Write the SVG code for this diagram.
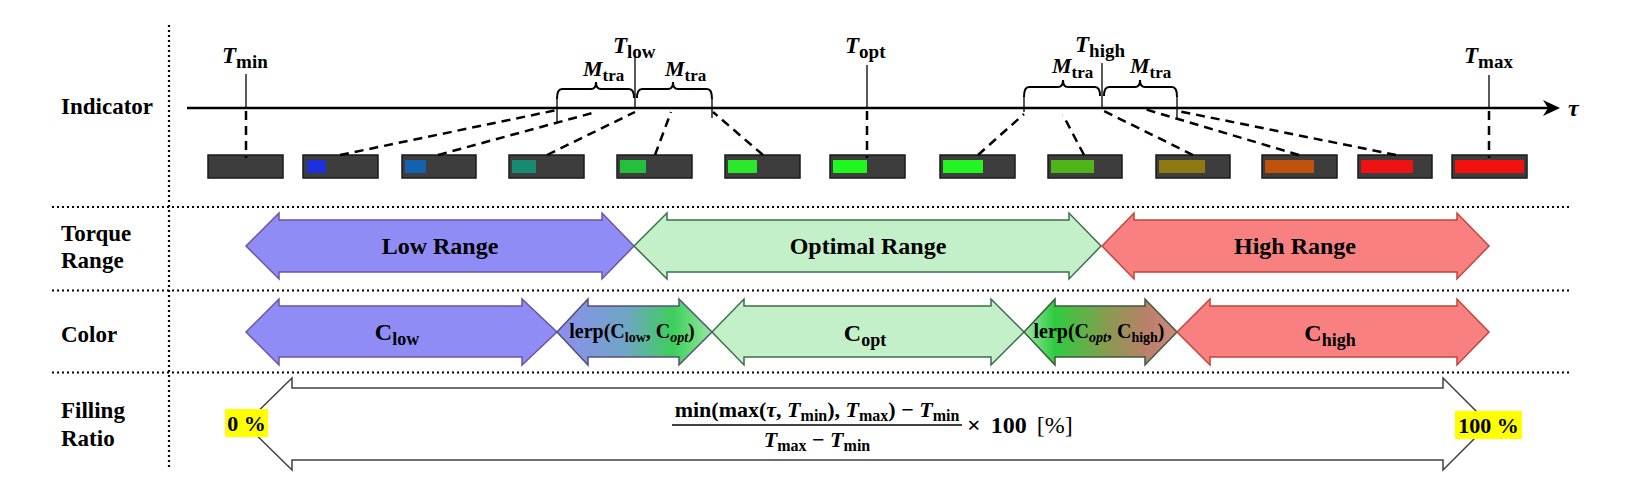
<svg xmlns="http://www.w3.org/2000/svg" width="1636" height="494" viewBox="0 0 1636 494">
<defs>
<style>
.lbl{font-family:"Liberation Serif","Times New Roman",serif;font-weight:bold;fill:#000}
.big{font-size:23px}
.rng{font-size:24px;text-anchor:middle}
.ti{font-style:italic}
.sub{font-size:17px;font-style:normal}
.tsub{font-size:19px;font-style:normal}
.dot{stroke:#000;stroke-width:2.2;stroke-dasharray:2 3;fill:none}
.dash{stroke:#000;stroke-width:2.5;stroke-dasharray:9 6;fill:none}
.thin{stroke:#000;stroke-width:1.3;fill:none}
.brace{stroke:#000;stroke-width:2;fill:none}
.bar{fill:#3d3d3d;stroke:#1a1a1a;stroke-width:1.5}
.low{fill:#908cf5;stroke:#6a54a8;stroke-width:1.5}
.opt{fill:#c3f0c8;stroke:#3d6e48;stroke-width:1.5}
.high{fill:#f88080;stroke:#c0463a;stroke-width:1.5}
.fill{fill:#fff;stroke:#404040;stroke-width:1.5}
.hl{fill:#ffff00}
</style>
<linearGradient id="g1" x1="557" y1="0" x2="712" y2="0" gradientUnits="userSpaceOnUse">
<stop offset="0" stop-color="#8e8ef0"/>
<stop offset="0.45" stop-color="#6fa6c4"/>
<stop offset="0.75" stop-color="#3ccf5a"/>
<stop offset="1" stop-color="#95e8a0"/>
</linearGradient>
<linearGradient id="g2" x1="1024" y1="0" x2="1177" y2="0" gradientUnits="userSpaceOnUse">
<stop offset="0" stop-color="#a0e6a6"/>
<stop offset="0.2" stop-color="#2ecc40"/>
<stop offset="0.55" stop-color="#8a9a50"/>
<stop offset="0.8" stop-color="#b8806a"/>
<stop offset="1" stop-color="#d08878"/>
</linearGradient>
</defs>
<rect width="1636" height="494" fill="#fff"/>

<g id="grid">
<line class="dot" x1="169" y1="25" x2="169" y2="467"/>
<line class="dot" x1="52" y1="207" x2="1572" y2="207"/>
<line class="dot" x1="52" y1="290.5" x2="1572" y2="290.5"/>
<line class="dot" x1="52" y1="372.5" x2="1572" y2="372.5"/>
</g>

<g id="row-labels" class="lbl big">
<text x="61" y="114">Indicator</text>
<text x="61" y="241">Torque</text>
<text x="61" y="268">Range</text>
<text x="61" y="342">Color</text>
<text x="61" y="418">Filling</text>
<text x="61" y="446">Ratio</text>
</g>

<g id="axis">
<line x1="187" y1="108" x2="1550" y2="108" stroke="#000" stroke-width="2.5"/>
<path d="M1560,108 L1543,100 L1548,108 L1543,116 Z" fill="#000"/>
<text class="lbl ti" x="1568" y="116" font-size="24">τ</text>
</g>

<g id="t-labels" class="lbl big">
<text x="222" y="63"><tspan class="ti">T</tspan><tspan class="tsub" dy="5">min</tspan></text>
<text x="613" y="53"><tspan class="ti">T</tspan><tspan class="tsub" dy="5">low</tspan></text>
<text x="845" y="53"><tspan class="ti">T</tspan><tspan class="tsub" dy="5">opt</tspan></text>
<text x="1075" y="52"><tspan class="ti">T</tspan><tspan class="tsub" dy="5">high</tspan></text>
<text x="1464" y="63"><tspan class="ti">T</tspan><tspan class="tsub" dy="5">max</tspan></text>
<text x="583" y="76" font-size="22"><tspan class="ti">M</tspan><tspan class="sub" dy="5">tra</tspan></text>
<text x="665" y="76" font-size="22"><tspan class="ti">M</tspan><tspan class="sub" dy="5">tra</tspan></text>
<text x="1052" y="73" font-size="22"><tspan class="ti">M</tspan><tspan class="sub" dy="5">tra</tspan></text>
<text x="1130" y="73" font-size="22"><tspan class="ti">M</tspan><tspan class="sub" dy="5">tra</tspan></text>
</g>

<g id="braces">
<path class="brace" d="M557,99 Q557,89 562,89 L591,89 Q596,89 596,82 Q596,89 601,89 L629,89 Q634,89 634,98"/>
<path class="brace" d="M637,98 Q637,89 642,89 L668,89 Q673,89 673,82 Q673,89 678,89 L707,89 Q712,89 712,99"/>
<path class="brace" d="M1024,97 Q1024,87 1029,87 L1058,87 Q1063,87 1063,80 Q1063,87 1068,87 L1095,87 Q1100,87 1100,96"/>
<path class="brace" d="M1104,96 Q1104,87 1109,87 L1135,87 Q1140,87 1140,80 Q1140,87 1145,87 L1172,87 Q1177,87 1177,97"/>
</g>

<g id="indicators">
<g id="bar1"><rect class="bar" x="208" y="155" width="75" height="23"/></g>
<g id="bar2"><rect class="bar" x="303" y="155" width="75" height="23"/><rect x="307" y="160" width="19" height="13" fill="#1d30dc"/></g>
<g id="bar3"><rect class="bar" x="402" y="155" width="74" height="23"/><rect x="405" y="160" width="21" height="13" fill="#1262ae"/></g>
<g id="bar4"><rect class="bar" x="509" y="155" width="75" height="23"/><rect x="512" y="160" width="24" height="13" fill="#178a72"/></g>
<g id="bar5"><rect class="bar" x="617" y="155" width="75" height="23"/><rect x="620" y="160" width="26" height="13" fill="#22c03c"/></g>
<g id="bar6"><rect class="bar" x="725" y="155" width="75" height="23"/><rect x="728" y="160" width="29" height="13" fill="#2be82b"/></g>
<g id="bar7"><rect class="bar" x="830" y="155" width="75" height="23"/><rect x="833" y="160" width="34" height="13" fill="#1ef81e"/></g>
<g id="bar8"><rect class="bar" x="940" y="155" width="75" height="23"/><rect x="943" y="160" width="40" height="13" fill="#22f522"/></g>
<g id="bar9"><rect class="bar" x="1048" y="155" width="74" height="23"/><rect x="1051" y="160" width="43" height="13" fill="#4fb51b"/></g>
<g id="bar10"><rect class="bar" x="1156" y="155" width="74" height="23"/><rect x="1159" y="160" width="46" height="13" fill="#8e7a10"/></g>
<g id="bar11"><rect class="bar" x="1262" y="155" width="75" height="23"/><rect x="1265" y="160" width="49" height="13" fill="#c0520c"/></g>
<g id="bar12"><rect class="bar" x="1358" y="155" width="74" height="23"/><rect x="1361" y="160" width="52" height="13" fill="#f01212"/></g>
<g id="bar13"><rect class="bar" x="1452" y="155" width="75" height="23"/><rect x="1455" y="160" width="69" height="13" fill="#f51010"/></g>
</g>

<g id="connectors">
<line class="thin" x1="246" y1="74" x2="246" y2="108"/>
<line class="thin" x1="635" y1="56" x2="635" y2="108"/>
<line class="thin" x1="867" y1="65" x2="867" y2="108"/>
<line class="thin" x1="1102" y1="63" x2="1102" y2="108"/>
<line class="thin" x1="1489" y1="75" x2="1489" y2="108"/>
<line class="thin" x1="557" y1="99" x2="557" y2="122"/>
<line class="thin" x1="712" y1="99" x2="712" y2="118"/>
<line class="thin" x1="1024" y1="97" x2="1024" y2="112"/>
<line class="thin" x1="1177" y1="97" x2="1177" y2="118"/>
<line class="dash" x1="246" y1="111" x2="246" y2="158"/>
<line class="dash" x1="340" y1="155" x2="557" y2="110"/>
<line class="dash" x1="438" y1="155" x2="596" y2="112"/>
<line class="dash" x1="547" y1="155" x2="635" y2="112"/>
<line class="dash" x1="655" y1="155" x2="671" y2="112"/>
<line class="dash" x1="763" y1="155" x2="713" y2="112"/>
<line class="dash" x1="867" y1="111" x2="867" y2="158"/>
<line class="dash" x1="978" y1="155" x2="1024" y2="114"/>
<line class="dash" x1="1084" y1="155" x2="1063" y2="115"/>
<line class="dash" x1="1193" y1="155" x2="1104" y2="111"/>
<line class="dash" x1="1299" y1="155" x2="1141" y2="108"/>
<line class="dash" x1="1396" y1="155" x2="1178" y2="111"/>
<line class="dash" x1="1489" y1="111" x2="1489" y2="158"/>
</g>

<g id="torque-low">
<polygon class="low" points="246,246 279,213 279,220 602,220 602,213 634,246 602,279 602,272 279,272 279,279"/>
<text class="lbl rng" x="440" y="254">Low Range</text>
</g>
<g id="torque-opt">
<polygon class="opt" points="634,246 667,213 667,220 1069,220 1069,213 1101,246 1069,279 1069,272 667,272 667,279"/>
<text class="lbl rng" x="868" y="254">Optimal Range</text>
</g>
<g id="torque-high">
<polygon class="high" points="1102,246 1134,213 1134,220 1457,220 1457,213 1489,246 1457,279 1457,272 1134,272 1134,279"/>
<text class="lbl rng" x="1295" y="254">High Range</text>
</g>

<g id="color-low">
<polygon class="low" points="246,332 279,299 279,306 522,306 522,299 557,332 522,365 522,357 279,357 279,365"/>
<text class="lbl" x="397" y="340" text-anchor="middle" font-size="24">C<tspan font-size="18" dy="5">low</tspan></text>
</g>
<g id="color-lerp1">
<polygon fill="url(#g1)" stroke="#55507a" stroke-width="1.5" points="557,332 588,299 588,306 679,306 679,299 712,332 679,365 679,357 588,357 588,365"/>
<text class="lbl" x="632" y="338" text-anchor="middle" font-size="20">lerp(C<tspan font-size="14" dy="4">low</tspan><tspan dy="-4">, C</tspan><tspan font-size="14" dy="4" font-style="italic">opt</tspan><tspan dy="-4">)</tspan></text>
</g>
<g id="color-opt">
<polygon class="opt" points="712,332 744,299 744,306 991,306 991,299 1024,332 991,365 991,357 744,357 744,365"/>
<text class="lbl" x="865" y="341" text-anchor="middle" font-size="24">C<tspan font-size="18" dy="5">opt</tspan></text>
</g>
<g id="color-lerp2">
<polygon fill="url(#g2)" stroke="#3d5a40" stroke-width="1.5" points="1024,332 1055,299 1055,306 1145,306 1145,299 1177,332 1145,365 1145,357 1055,357 1055,365"/>
<text class="lbl" x="1099" y="338" text-anchor="middle" font-size="20">lerp(C<tspan font-size="14" dy="4" font-style="italic">opt</tspan><tspan dy="-4">, C</tspan><tspan font-size="14" dy="4">high</tspan><tspan dy="-4">)</tspan></text>
</g>
<g id="color-high">
<polygon class="high" points="1177,332 1210,299 1210,306 1457,306 1457,299 1489,332 1457,365 1457,357 1210,357 1210,365"/>
<text class="lbl" x="1330" y="341" text-anchor="middle" font-size="24">C<tspan font-size="18" dy="5">high</tspan></text>
</g>

<g id="filling">
<polygon class="fill" points="245,424 292,378 292,388 1443,388 1443,378 1489,424 1443,470 1443,460 292,460 292,470"/>
<rect class="hl" x="225" y="409" width="43" height="28"/>
<text class="lbl" x="246.5" y="431" text-anchor="middle" font-size="22">0 %</text>
<rect class="hl" x="1455" y="411" width="67" height="28"/>
<text class="lbl" x="1488.5" y="433" text-anchor="middle" font-size="22">100 %</text>
<text class="lbl" x="817" y="417" text-anchor="middle" font-size="22">min(max(<tspan font-style="italic">τ</tspan>, <tspan font-style="italic">T</tspan><tspan font-size="16" dy="4">min</tspan><tspan dy="-4">), </tspan><tspan font-style="italic">T</tspan><tspan font-size="16" dy="4">max</tspan><tspan dy="-4">) − </tspan><tspan font-style="italic">T</tspan><tspan font-size="16" dy="4">min</tspan></text>
<line x1="672" y1="425" x2="962" y2="425" stroke="#000" stroke-width="1.5"/>
<text class="lbl" x="817" y="447" text-anchor="middle" font-size="22"><tspan font-style="italic">T</tspan><tspan font-size="16" dy="4">max</tspan><tspan dy="-4"> − </tspan><tspan font-style="italic">T</tspan><tspan font-size="16" dy="4">min</tspan></text>
<text x="967" y="433" font-family="Liberation Serif, serif" font-size="24" word-spacing="4"><tspan font-weight="bold">× 100</tspan> [%]</text>
</g>
</svg>
